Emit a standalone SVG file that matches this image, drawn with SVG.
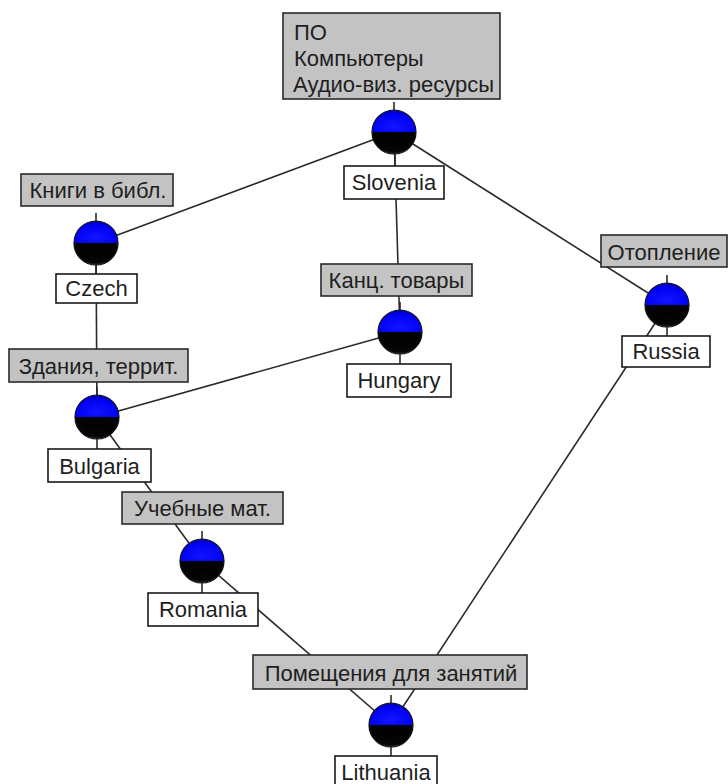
<svg xmlns="http://www.w3.org/2000/svg" xmlns:xlink="http://www.w3.org/1999/xlink" width="728" height="784" viewBox="0 0 728 784">
<style>
.edge{stroke:#2a2a2a;stroke-width:1.6;fill:none}
.tick{stroke:#2a2a2a;stroke-width:1.6}
.lbl{fill:#c3c3c3;stroke:#2a2a2a;stroke-width:1.6}
.cty{fill:#ffffff;stroke:#1a1a1a;stroke-width:1.6}
text{font-family:"Liberation Sans",Arial,sans-serif;font-size:22px;fill:#1e1e1e}
.c{text-anchor:middle}
</style>
<defs>
<radialGradient id="gBlue" cx="0.5" cy="0.75" r="0.75">
<stop offset="0" stop-color="#1414ff"/>
<stop offset="0.7" stop-color="#0000f4"/>
<stop offset="1" stop-color="#0000b0"/>
</radialGradient>
<radialGradient id="gBlack" cx="0.5" cy="0.2" r="0.85">
<stop offset="0" stop-color="#000000"/>
<stop offset="0.8" stop-color="#050505"/>
<stop offset="1" stop-color="#3a3a3a"/>
</radialGradient>
<g id="ball">
<line class="tick" x1="0" y1="-30" x2="0" y2="-22"/>
<path d="M-22,0 A22,22 0 0 1 22,0 Z" fill="url(#gBlue)"/>
<path d="M-22,0 A22,22 0 0 0 22,0 Z" fill="url(#gBlack)"/>
<circle r="22" fill="none" stroke="#101010" stroke-width="1.2"/>
</g>
</defs>
<rect width="728" height="784" fill="#ffffff"/>
<g id="connectors">
<line class="edge" x1="394" y1="132" x2="96" y2="243"/>
<line class="edge" x1="394" y1="132" x2="400" y2="332"/>
<line class="edge" x1="394" y1="132" x2="667" y2="305"/>
<line class="edge" x1="96" y1="243" x2="97" y2="417"/>
<line class="edge" x1="400" y1="332" x2="97" y2="417"/>
<line class="edge" x1="97" y1="417" x2="202" y2="561"/>
<line class="edge" x1="202" y1="561" x2="391" y2="725"/>
<line class="edge" x1="667" y1="305" x2="391" y2="725"/>
</g>
<g id="slovenia">
<rect class="lbl" x="283" y="13" width="217" height="86"/>
<text x="294" y="40">ПО</text>
<text x="294" y="66">Компьютеры</text>
<text x="293" y="92">Аудио-виз. ресурсы</text>
<use xlink:href="#ball" href="#ball" transform="translate(394,132)"/>
<line class="tick" x1="395" y1="154" x2="395" y2="166"/>
<rect class="cty" x="344" y="166" width="100" height="33"/>
<text class="c" x="394" y="190">Slovenia</text>
</g>
<g id="czech">
<rect class="lbl" x="21" y="174" width="152" height="32"/>
<text class="c" x="98" y="198">Книги в библ.</text>
<use xlink:href="#ball" href="#ball" transform="translate(96,243)"/>
<line class="tick" x1="96" y1="265" x2="96" y2="274"/>
<rect class="cty" x="56" y="274" width="81" height="29"/>
<text class="c" x="96.5" y="296">Czech</text>
</g>
<g id="russia">
<rect class="lbl" x="601" y="235" width="126" height="32"/>
<text class="c" x="664" y="260">Отопление</text>
<use xlink:href="#ball" href="#ball" transform="translate(667,305)"/>
<line class="tick" x1="667" y1="327" x2="667" y2="336"/>
<rect class="cty" x="622" y="336" width="88" height="31"/>
<text class="c" x="666" y="359">Russia</text>
</g>
<g id="hungary">
<rect class="lbl" x="321" y="264" width="151" height="32"/>
<text class="c" x="396.5" y="288">Канц. товары</text>
<use xlink:href="#ball" href="#ball" transform="translate(400,332)"/>
<line class="tick" x1="400" y1="354" x2="400" y2="364"/>
<rect class="cty" x="347" y="364" width="104" height="33"/>
<text class="c" x="399" y="388">Hungary</text>
</g>
<g id="bulgaria">
<rect class="lbl" x="9" y="349" width="179" height="33"/>
<text class="c" x="98.5" y="374">Здания, террит.</text>
<use xlink:href="#ball" href="#ball" transform="translate(97,417)"/>
<line class="tick" x1="97" y1="439" x2="97" y2="449"/>
<rect class="cty" x="48" y="449" width="103" height="33"/>
<text class="c" x="99.5" y="474">Bulgaria</text>
</g>
<g id="romania">
<rect class="lbl" x="122" y="492" width="161" height="32"/>
<text class="c" x="202.5" y="516">Учебные мат.</text>
<use xlink:href="#ball" href="#ball" transform="translate(202,561)"/>
<line class="tick" x1="202" y1="583" x2="202" y2="593"/>
<rect class="cty" x="148" y="593" width="110" height="33"/>
<text class="c" x="203" y="617">Romania</text>
</g>
<g id="lithuania">
<rect class="lbl" x="253" y="655" width="274" height="34"/>
<text class="c" x="391" y="681">Помещения для занятий</text>
<use xlink:href="#ball" href="#ball" transform="translate(391,725)"/>
<line class="tick" x1="391" y1="747" x2="391" y2="756"/>
<rect class="cty" x="335" y="756" width="102" height="33"/>
<text class="c" x="386" y="780">Lithuania</text>
</g>
</svg>
